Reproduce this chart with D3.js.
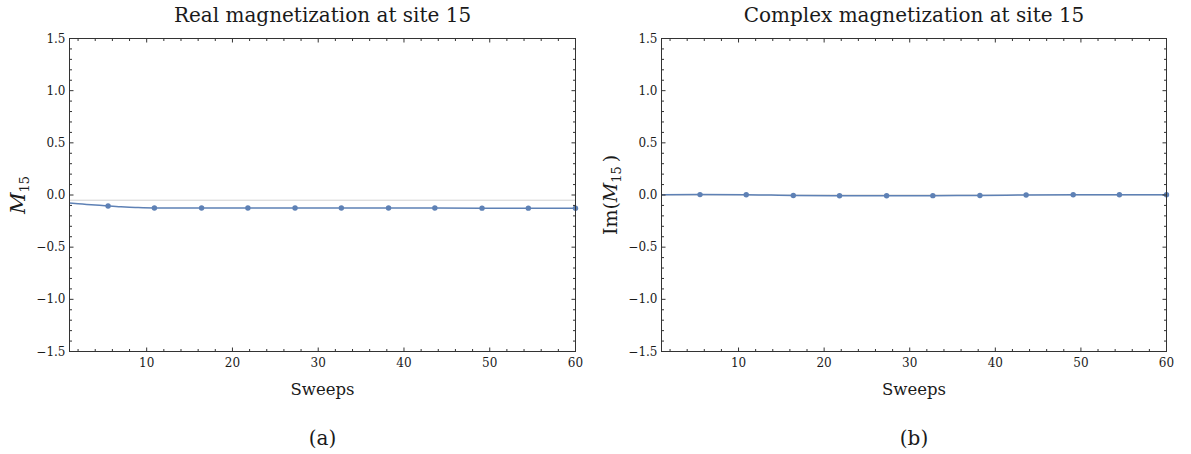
<!DOCTYPE html>
<html lang="en">
<head>
    <meta charset="UTF-8">
    <title>Magnetization at site 15</title>
    <script src="https://d3js.org/d3.v7.min.js"></script>
    <style>
        body { margin: 0; background: #fff; }
        svg { display: block; }
        text { font-family: "DejaVu Serif", serif; fill: #1a1a1a; }
    </style>
</head>
<body>
    <div id="chart"></div>

    <script>
        // values
        const meshSweeps = [5.5, 10.9, 16.4, 21.8, 27.3, 32.7, 38.2, 43.6, 49.1, 54.5, 60];

        const realLineSweeps = [1, 2, 3, 4, 5.5, 7, 8, 9, 10.9, 13, 16.4, 21.8, 27.3, 32.7, 38.2, 43.6, 49.1, 54.5, 60];
        const realLineValues = [-0.077, -0.083, -0.090, -0.096, -0.105, -0.113, -0.117, -0.120, -0.124, -0.125,
                                -0.125, -0.125, -0.125, -0.125, -0.125, -0.125, -0.126, -0.126, -0.127];
        const realMesh = [-0.105, -0.124, -0.125, -0.125, -0.125, -0.125, -0.125, -0.125, -0.126, -0.126, -0.127];

        const imagLineSweeps = [1, 5.5, 10.9, 16.4, 21.8, 27.3, 32.7, 38.2, 43.6, 49.1, 54.5, 60];
        const imagLineValues = [0.002, 0.004, 0.003, -0.005, -0.007, -0.007, -0.006, -0.005, 0.0, 0.002, 0.002, 0.002];
        const imagMesh = [0.004, 0.003, -0.005, -0.007, -0.007, -0.006, -0.005, 0.0, 0.002, 0.002, 0.002];

        const xTicks = [10, 20, 30, 40, 50, 60];
        const yTicks = [-1.5, -1.0, -0.5, 0.0, 0.5, 1.0, 1.5];

        const width = 1191;
        const height = 454;
        const blue = "#5e81b5";

        const svg = d3.select("#chart")
            .append("svg")
            .attr("width", width)
            .attr("height", height);

        svg.append("rect").attr("width", width).attr("height", height).attr("fill", "#fff");

        function drawPanel(opts) {
            const x = d3.scaleLinear().domain([1, 60]).range([opts.left, opts.right]);
            const y = d3.scaleLinear().domain([-1.5, 1.5]).range([opts.bottom, opts.top]);
            const g = svg.append("g");

            // faint axis line
            g.append("line")
                .attr("x1", opts.left).attr("x2", opts.right)
                .attr("y1", y(opts.axisAt)).attr("y2", y(opts.axisAt))
                .attr("stroke", "#d0d0d0").attr("stroke-width", 1);

            const line = d3.line()
                .x((d, i) => x(opts.lineX[i]))
                .y(d => y(d))
                .curve(d3.curveMonotoneX);

            g.append("path")
                .datum(opts.lineY)
                .attr("d", line)
                .attr("fill", "none")
                .attr("stroke", blue)
                .attr("stroke-width", 1.5);

            g.selectAll("circle")
                .data(opts.meshY)
                .join("circle")
                .attr("cx", (d, i) => x(meshSweeps[i]))
                .attr("cy", d => y(d))
                .attr("r", 2.7)
                .attr("fill", blue);

            // frame
            g.append("rect")
                .attr("x", opts.left).attr("y", opts.top)
                .attr("width", opts.right - opts.left)
                .attr("height", opts.bottom - opts.top)
                .attr("fill", "none")
                .attr("stroke", "#333")
                .attr("stroke-width", 1);

            // inward ticks on all four sides
            const xMinor = d3.range(2, 60, 2).filter(v => v % 10 !== 0);
            const yMinor = d3.range(-15, 16).filter(v => v % 5 !== 0).map(v => v / 10);
            const tickColor = "#333";

            [[xTicks, 4], [xMinor, 2.5]].forEach(([vals, len]) => {
                vals.forEach(v => {
                    g.append("line").attr("x1", x(v)).attr("x2", x(v))
                        .attr("y1", opts.bottom).attr("y2", opts.bottom - len)
                        .attr("stroke", tickColor);
                    g.append("line").attr("x1", x(v)).attr("x2", x(v))
                        .attr("y1", opts.top).attr("y2", opts.top + len)
                        .attr("stroke", tickColor);
                });
            });
            [[yTicks, 4], [yMinor, 2.5]].forEach(([vals, len]) => {
                vals.forEach(v => {
                    g.append("line").attr("x1", opts.left).attr("x2", opts.left + len)
                        .attr("y1", y(v)).attr("y2", y(v))
                        .attr("stroke", tickColor);
                    g.append("line").attr("x1", opts.right).attr("x2", opts.right - len)
                        .attr("y1", y(v)).attr("y2", y(v))
                        .attr("stroke", tickColor);
                });
            });

            g.selectAll(".xl")
                .data(xTicks)
                .join("text")
                .attr("x", d => x(d))
                .attr("y", opts.bottom + 15)
                .attr("text-anchor", "middle")
                .style("font-size", "12px")
                .text(d => d);

            g.selectAll(".yl")
                .data(yTicks)
                .join("text")
                .attr("x", opts.left - 4)
                .attr("y", d => y(d) + 4)
                .attr("text-anchor", "end")
                .style("font-size", "12px")
                .text(d => d < 0 ? "\u2212" + d3.format(".1f")(-d) : d3.format(".1f")(d));

            const cx = (opts.left + opts.right) / 2;

            g.append("text")
                .attr("x", cx).attr("y", 22)
                .attr("text-anchor", "middle")
                .style("font-size", "20px")
                .text(opts.title);

            g.append("text")
                .attr("x", cx).attr("y", 395)
                .attr("text-anchor", "middle")
                .style("font-size", "16.5px")
                .text("Sweeps");

            g.append("text")
                .attr("x", cx).attr("y", 445)
                .attr("text-anchor", "middle")
                .style("font-size", "20px")
                .text(opts.caption);

            const yl = g.append("text")
                .attr("transform", `translate(${opts.left - 45},${(opts.top + opts.bottom) / 2}) rotate(-90)`)
                .attr("text-anchor", "middle")
                .style("font-size", opts.wrap ? "19px" : "21px");
            if (opts.wrap) yl.append("tspan").text("Im(");
            yl.append("tspan").style("font-style", "italic").text("M");
            yl.append("tspan").attr("dy", 4).style("font-size", "13px").text("15");
            if (opts.wrap) yl.append("tspan").attr("dy", -4).text("\u2009)");
        }

        drawPanel({
            left: 69.5, right: 575.5, top: 38.5, bottom: 351.5,
            lineX: realLineSweeps, lineY: realLineValues, meshY: realMesh,
            axisAt: -0.05,
            title: "Real magnetization at site 15", caption: "(a)", wrap: false
        });

        drawPanel({
            left: 661.5, right: 1166.5, top: 38.5, bottom: 351.5,
            lineX: imagLineSweeps, lineY: imagLineValues, meshY: imagMesh,
            axisAt: 0,
            title: "Complex magnetization at site 15", caption: "(b)", wrap: true
        });
    </script>
</body>
</html>
